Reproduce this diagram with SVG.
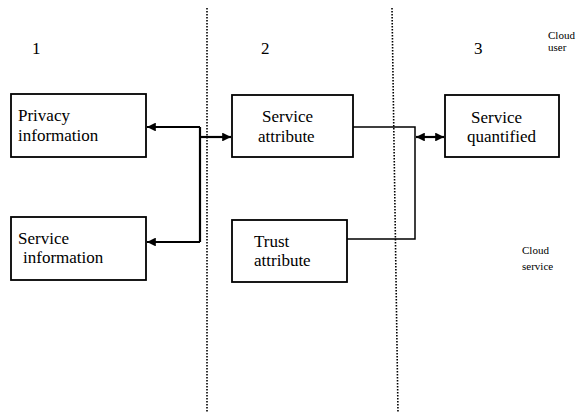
<svg xmlns="http://www.w3.org/2000/svg" width="585" height="415" viewBox="0 0 585 415">
<defs>
<style>
.box{fill:#fff;stroke:#000;stroke-width:1.8}
.t{font-size:17px;fill:#000}
.s{font-size:11px;fill:#000}
.dot{stroke:#000;stroke-width:1.6;stroke-dasharray:1.6 1.4;fill:none}
.c{stroke:#000;stroke-width:2.2;fill:none}
.c2{stroke:#000;stroke-width:1.5;fill:none}
</style>
<marker id="ah" viewBox="0 0 10 10" refX="10" refY="5" markerWidth="4" markerHeight="4" markerUnits="strokeWidth" orient="auto-start-reverse">
<path d="M0,0 L10,5 L0,10 z" fill="#000"/>
</marker>
</defs>
<rect width="585" height="415" fill="#fff"/>
<g font-family="Liberation Serif, Times New Roman, serif">
<g id="dividers">
<line class="dot" x1="207" y1="8" x2="207" y2="413"/>
<line class="dot" x1="392" y1="8" x2="398" y2="413"/>
</g>
<g id="labels">
<text class="t" x="32" y="54">1</text>
<text class="t" x="261" y="54">2</text>
<text class="t" x="474" y="54">3</text>
<text class="s" x="548" y="39">Cloud</text>
<text class="s" x="548" y="51">user</text>
<text class="s" x="522" y="254">Cloud</text>
<text class="s" x="522" y="270">service</text>
</g>
<g id="connectors">
<polyline class="c" points="200,127 200,242"/>
<line class="c" x1="200" y1="127" x2="147" y2="127" marker-end="url(#ah)"/>
<line class="c" x1="200" y1="242" x2="147" y2="242" marker-end="url(#ah)"/>
<line class="c" x1="200" y1="137" x2="231" y2="137" marker-end="url(#ah)"/>
<polyline class="c2" points="353,127 415,127 415,239 347,239"/>
<line class="c" x1="416" y1="137" x2="444" y2="137" marker-start="url(#ah)" marker-end="url(#ah)"/>
</g>
<g id="privacy">
<rect class="box" x="11" y="94" width="135" height="63"/>
<text class="t" x="18" y="121">Privacy</text>
<text class="t" x="18" y="141">information</text>
</g>
<g id="service-info">
<rect class="box" x="11" y="217" width="135" height="63"/>
<text class="t" x="18" y="244">Service</text>
<text class="t" x="23" y="263">information</text>
</g>
<g id="service-attr">
<rect class="box" x="232" y="95" width="121" height="62"/>
<text class="t" x="262" y="122">Service</text>
<text class="t" x="258" y="142">attribute</text>
</g>
<g id="trust-attr">
<rect class="box" x="232" y="220" width="115" height="62"/>
<text class="t" x="254" y="247">Trust</text>
<text class="t" x="254" y="266">attribute</text>
</g>
<g id="service-quant">
<rect class="box" x="445" y="95" width="114" height="62"/>
<text class="t" x="471" y="123">Service</text>
<text class="t" x="467" y="142">quantified</text>
</g>
</g>
</svg>
